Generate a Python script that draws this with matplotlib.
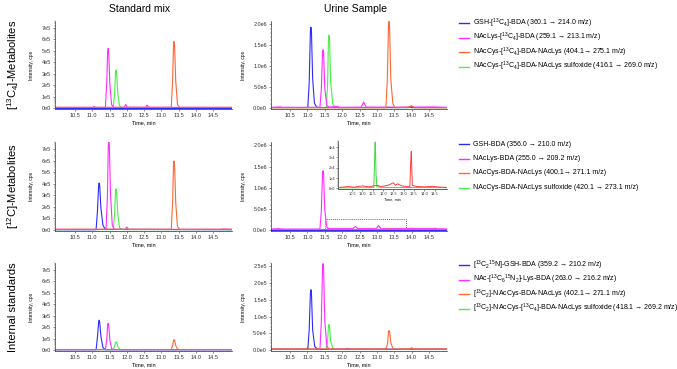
import matplotlib.pyplot as plt
from matplotlib.ticker import MultipleLocator
from matplotlib.patches import Rectangle

plt.rcParams['font.family'] = ['Liberation Sans', 'DejaVu Sans']
plt.rcParams['mathtext.fontset'] = 'custom'
plt.rcParams['mathtext.rm'] = 'Liberation Sans'
plt.rcParams['mathtext.it'] = 'Liberation Sans:italic'
plt.rcParams['mathtext.default'] = 'rm'

# -------- DATA: (time [min], intensity [cps]) --------
# Standard mix, [13C4]-metabolites
std13_gsh = [(9.95, 2e3), (15.05, 2e3)]
std13_lys = [(9.95, 4e3), (11.0, 4e3), (11.05, 1.2e4), (11.1, 4e3),
             (11.38, 4e3), (11.42, 2.2e5), (11.445, 4.9e5), (11.46, 5.2e5), (11.475, 4.9e5),
             (11.51, 2.1e5), (11.56, 3e4), (11.62, 4e3),
             (11.92, 5e3), (11.97, 3e4), (12.02, 6e3), (12.54, 5e3), (12.59, 2.5e4), (12.64, 5e3), (15.05, 4e3)]
std13_cys = [(9.95, 6e3), (13.29, 6e3), (13.33, 2.5e5), (13.355, 5.5e5), (13.37, 5.8e5), (13.385, 5.5e5),
             (13.42, 2.3e5), (13.47, 3e4), (13.53, 6e3), (15.05, 6e3)]
std13_sulf = [(9.95, 3e3), (11.61, 3e3), (11.65, 1.4e5), (11.675, 3.1e5), (11.69, 3.3e5), (11.705, 3.1e5),
              (11.74, 1.3e5), (11.79, 2e4), (11.86, 3e3), (15.05, 3e3)]

# Urine sample, [13C4]-metabolites
uri13_gsh = [(9.95, 1e4), (11.01, 1e4), (11.05, 6e5), (11.085, 1.83e6), (11.1, 1.93e6), (11.115, 1.83e6),
             (11.15, 7e5), (11.2, 1.2e5), (11.26, 2e4), (11.35, 1e4),
             (13.9, 1e4), (13.95, 2.5e4), (14.0, 1e4), (15.02, 1e4)]
uri13_lys = [(9.95, 1.5e4), (10.2, 2.5e4), (10.3, 1.5e4), (11.36, 1.5e4), (11.4, 4.5e5), (11.435, 1.32e6),
             (11.45, 1.39e6), (11.465, 1.32e6), (11.5, 4.5e5), (11.56, 6e4), (11.62, 2e4),
             (11.85, 3.5e4), (11.95, 1.5e4), (12.55, 2e4), (12.62, 1.4e5), (12.69, 2e4),
             (13.9, 2e4), (14.0, 5e4), (14.08, 2e4), (14.6, 2.5e4), (15.02, 1.5e4)]
uri13_cys = [(9.95, 5e3), (13.26, 5e3), (13.3, 6.5e5), (13.335, 1.97e6), (13.35, 2.07e6), (13.365, 1.97e6),
             (13.4, 7e5), (13.46, 1e5), (13.52, 5e3), (13.93, 2e4), (14.0, 4.5e4), (14.07, 5e3), (15.02, 5e3)]
uri13_sulf = [(9.95, 8e3), (11.54, 8e3), (11.58, 5.5e5), (11.605, 1.65e6), (11.62, 1.74e6), (11.635, 1.65e6),
              (11.67, 6e5), (11.73, 9e4), (11.8, 2e4), (11.9, 8e3), (15.02, 8e3)]

# Standard mix, [12C]-metabolites
std12_gsh = [(9.95, 2e3), (11.11, 2e3), (11.15, 1.6e5), (11.185, 3.85e5), (11.2, 4.06e5), (11.215, 3.85e5),
             (11.25, 1.9e5), (11.31, 4e4), (11.38, 5e3), (15.05, 2e3)]
std12_lys = [(9.95, 5e3), (11.4, 5e3), (11.44, 3e5), (11.465, 7.3e5), (11.48, 7.7e5), (11.495, 7.3e5),
             (11.53, 3e5), (11.58, 4e4), (11.64, 5e3), (11.95, 5e3), (12.0, 2.5e4), (12.05, 5e3),
             (14.7, 5e3), (14.8, 8e3), (15.05, 5e3)]
std12_cys = [(9.95, 6e3), (13.29, 6e3), (13.33, 2.5e5), (13.355, 5.65e5), (13.37, 5.95e5), (13.385, 5.65e5),
             (13.42, 2.3e5), (13.47, 3e4), (13.53, 6e3), (15.05, 6e3)]
std12_sulf = [(9.95, 3e3), (11.61, 3e3), (11.65, 1.5e5), (11.675, 3.35e5), (11.69, 3.55e5), (11.705, 3.35e5),
              (11.74, 1.4e5), (11.79, 2e4), (11.86, 3e3), (15.05, 3e3)]

# Urine sample, [12C]-metabolites
uri12_gsh = [(9.95, 5e3), (15.02, 5e3)]
uri12_lys = [(9.95, 2e4), (10.15, 3e4), (10.3, 2e4), (11.36, 2e4), (11.4, 4.5e5), (11.435, 1.33e6),
             (11.45, 1.4e6), (11.465, 1.33e6), (11.5, 4.5e5), (11.56, 6e4), (11.62, 3e4),
             (12.3, 3e4), (12.38, 8e4), (12.46, 3e4), (12.98, 3e4), (13.05, 1.05e5), (13.12, 3e4),
             (13.9, 3e4), (14.0, 4e4), (14.1, 3e4), (14.6, 3e4), (14.68, 4e4), (14.75, 2.5e4), (15.02, 2.5e4)]
uri12_cys = [(9.95, 1e4), (13.3, 1e4), (13.35, 3.5e4), (13.4, 1e4), (15.02, 1e4)]
uri12_sulf = [(9.95, 1e4), (11.55, 1e4), (11.62, 4.3e4), (11.68, 1e4), (15.02, 1e4)]

# zoomed inset of the urine [12C] trace
ins_sulf = [(9.9, 500), (11.55, 800), (11.59, 2.2e4), (11.61, 4.4e4), (11.63, 4.5e4), (11.66, 1.6e4),
            (11.7, 1500), (12.0, 1000), (15.1, 800)]
ins_cys = [(9.9, 1000), (10.3, 1800), (10.6, 1200), (11.0, 2500), (11.3, 1500), (11.7, 3000),
           (11.9, 1800), (12.1, 2500), (12.3, 3500), (12.5, 5500), (12.6, 3000), (12.7, 4500),
           (12.9, 2500), (13.1, 2000), (13.3, 1500), (13.34, 2.5e4), (13.37, 3.6e4), (13.42, 3000),
           (13.6, 2000), (14.0, 1500), (14.4, 2000), (14.8, 1200), (15.1, 1000)]

# Standard mix, internal standards
stdis_gsh = [(9.95, 2e3), (11.11, 2e3), (11.15, 1.1e5), (11.185, 2.45e5), (11.2, 2.6e5), (11.215, 2.45e5),
             (11.25, 1.2e5), (11.31, 2e4), (11.38, 2e3), (15.05, 2e3)]
stdis_lys = [(9.95, 3e3), (11.38, 3e3), (11.42, 9e4), (11.445, 2.2e5), (11.46, 2.33e5), (11.475, 2.2e5),
             (11.51, 9e4), (11.56, 1.2e4), (11.62, 3e3), (15.05, 3e3)]
stdis_cys = [(9.95, 4e3), (13.29, 4e3), (13.33, 4e4), (13.355, 8.5e4), (13.37, 9e4), (13.385, 8.5e4),
             (13.42, 3.8e4), (13.47, 8e3), (13.53, 4e3), (15.05, 4e3)]
stdis_sulf = [(9.95, 2e3), (11.61, 2e3), (11.65, 3.2e4), (11.675, 6.6e4), (11.69, 7e4), (11.705, 6.6e4),
              (11.74, 3e4), (11.79, 6e3), (11.86, 2e3), (15.05, 2e3)]

# Urine sample, internal standards
uriis_gsh = [(9.95, 2e3), (11.01, 2e3), (11.05, 6e4), (11.085, 1.7e5), (11.1, 1.8e5), (11.115, 1.7e5),
             (11.15, 6e4), (11.21, 1e4), (11.3, 2e3), (12.1, 2e3), (12.15, 4e3), (12.2, 2e3), (15.02, 2e3)]
uriis_lys = [(9.95, 2e3), (11.36, 2e3), (11.4, 8.5e4), (11.435, 2.45e5), (11.45, 2.58e5), (11.465, 2.45e5),
             (11.5, 8.5e4), (11.56, 1.2e4), (11.62, 2e3), (15.02, 2e3)]
uriis_cys = [(9.95, 3e3), (13.27, 3e3), (13.31, 2.2e4), (13.335, 5.5e4), (13.35, 5.8e4), (13.365, 5.5e4),
             (13.4, 2.2e4), (13.46, 5e3), (13.52, 3e3), (13.95, 3e3), (14.0, 7e3), (14.05, 3e3), (15.02, 3e3)]
uriis_sulf = [(9.95, 2e3), (10.95, 2e3), (11.0, 7e3), (11.05, 2e3), (11.54, 2e3), (11.58, 2.6e4),
              (11.605, 7.2e4), (11.62, 7.6e4), (11.635, 7.2e4), (11.67, 2.6e4), (11.73, 5e3), (11.8, 2e3),
              (13.2, 2e3), (13.25, 6e3), (13.3, 2e3), (15.02, 2e3)]

col_titles = ["Standard mix", "Urine Sample"]
row_titles = [r"[$^{13}$C$_4$]-Metabolites", r"[$^{12}$C]-Metabolites", "Internal standards"]

legend_13c = [r"GSH-[$^{13}$C$_4$]-BDA (360.1 → 214.0 m/z)",
              r"NAcLys-[$^{13}$C$_4$]-BDA (259.1 → 213.1 m/z)",
              r"NAcCys-[$^{13}$C$_4$]-BDA-NAcLys (404.1→ 275.1 m/z)",
              r"NAcCys-[$^{13}$C$_4$]-BDA-NAcLys sulfoxide (416.1 → 269.0 m/z)"]
legend_12c = ["GSH-BDA (356.0 → 210.0 m/z)",
              "NAcLys-BDA (255.0 → 209.2 m/z)",
              "NAcCys-BDA-NAcLys (400.1→ 271.1 m/z)",
              "NAcCys-BDA-NAcLys sulfoxide (420.1 → 273.1 m/z)"]
legend_is = [r"[$^{13}$C$_2$$^{15}$N]-GSH-BDA (359.2 → 210.2 m/z)",
             r"NAc-[$^{13}$C$_6$$^{15}$N$_2$]-Lys-BDA (263.0 → 216.2 m/z)",
             r"[$^{13}$C$_2$]-NAcCys-BDA-NAcLys (402.1→ 271.1 m/z)",
             r"[$^{13}$C$_2$]-NAcCys-[$^{13}$C$_4$]-BDA-NAcLys sulfoxide (418.1 → 269.2 m/z)"]

std_yticks = [0, 1e5, 2e5, 3e5, 4e5, 5e5, 6e5, 7e5]
std_ylabels = ["0e0", "1e5", "2e5", "3e5", "4e5", "5e5", "6e5", "7e5"]
uri_yticks = [0, 5e5, 1e6, 1.5e6, 2e6]
uri_ylabels = ["0.0e0", "5.0e5", "1.0e6", "1.5e6", "2.0e6"]
uriis_yticks = [0, 5e4, 1e5, 1.5e5, 2e5, 2.5e5]
uriis_ylabels = ["0.0e0", "5.0e4", "1.0e5", "1.5e5", "2.0e5", "2.5e5"]
ins_yticks = [0, 1e4, 2e4, 3e4, 4e4]
ins_ylabels = ["0e0", "1e4", "2e4", "3e4", "4e4"]
xticks = [10.5, 11.0, 11.5, 12.0, 12.5, 13.0, 13.5, 14.0, 14.5]

colors = ['#2b2bff', '#ff2cff', '#ff6633', '#46f046']

# -------- LAYOUT (pixels) --------
W, H = 677, 369
fig = plt.figure(figsize=(W / 100, H / 100), dpi=100)


def add_ax(left, top, right, bottom):
    return fig.add_axes([left / W, 1 - bottom / H, (right - left) / W, (bottom - top) / H])


def style(ax, yticks, ylabels, ymax, xlim, fs=4.0):
    ax.set_xlim(*xlim)
    ax.set_ylim(-0.012 * ymax, ymax)
    ax.set_yticks(yticks)
    ax.set_yticklabels(ylabels)
    ax.set_xticks(xticks)
    ax.set_xticklabels([f"{t:.1f}" for t in xticks])
    ax.xaxis.set_minor_locator(MultipleLocator(0.1))
    ax.yaxis.set_minor_locator(MultipleLocator(yticks[1] / 5))
    for s in ['top', 'right']:
        ax.spines[s].set_visible(False)
    for s in ['left', 'bottom']:
        ax.spines[s].set_linewidth(0.5)
        ax.spines[s].set_color('#333333')
    ax.tick_params(which='major', length=1.6, width=0.4, pad=1.2, labelsize=fs, colors='#333333')
    ax.tick_params(which='minor', length=0.8, width=0.3, colors='#333333')
    ax.set_xlabel("Time, min", fontsize=fs, labelpad=1.5)


def draw(ax, traces, lw=0.8):
    order = [3, 0, 1, 2]
    for i in order:
        t = [p[0] for p in traces[i]]
        y = [p[1] for p in traces[i]]
        ax.plot(t, y, color=colors[i], lw=lw)


rows_px = [(21, 109), (142, 231), (263, 351)]
std_traces = [[std13_gsh, std13_lys, std13_cys, std13_sulf],
              [std12_gsh, std12_lys, std12_cys, std12_sulf],
              [stdis_gsh, stdis_lys, stdis_cys, stdis_sulf]]
uri_traces = [[uri13_gsh, uri13_lys, uri13_cys, uri13_sulf],
              [uri12_gsh, uri12_lys, uri12_cys, uri12_sulf],
              [uriis_gsh, uriis_lys, uriis_cys, uriis_sulf]]
uri_ticks = [(uri_yticks, uri_ylabels, 2.08e6), (uri_yticks, uri_ylabels, 2.08e6),
             (uriis_yticks, uriis_ylabels, 2.6e5)]
legends = [legend_13c, legend_12c, legend_is]

for r, (top, bot) in enumerate(rows_px):
    ax = add_ax(55, top, 232, bot)
    draw(ax, std_traces[r])
    style(ax, std_yticks, std_ylabels, 7.6e5, (9.92, 15.05))
    ax.set_ylabel("Intensity, cps", fontsize=3.6, labelpad=6)

    ax2 = add_ax(271, top, 447, bot)
    draw(ax2, uri_traces[r])
    yt, yl, ym = uri_ticks[r]
    style(ax2, yt, yl, ym, (9.95, 15.02))
    ax2.set_ylabel("Intensity, cps", fontsize=3.6, labelpad=5)

    # row label
    fig.text(13 / W, 1 - (top + bot) / 2 / H, row_titles[r], rotation=90, fontsize=8,
             ha='center', va='center')

    # legend
    for k, txt in enumerate(legends[r]):
        yy = 1 - (top + 2 + k * 14.5) / H
        fig.add_artist(plt.Line2D([459 / W, 469 / W], [yy, yy], color=colors[k], lw=1.0))
        fig.text(473 / W, yy, txt, fontsize=5, va='center', ha='left')

    if r == 1:
        ax2.add_patch(Rectangle((11.5, 1e4), 2.34, 2.45e5, fill=False, ls=(0, (1.5, 1.5)),
                                lw=0.5, ec='#333333'))
        axi = add_ax(338, 141, 447, 189)
        axi.plot([p[0] for p in ins_sulf], [p[1] for p in ins_sulf], color='#3ddc3d', lw=0.7)
        axi.plot([p[0] for p in ins_cys], [p[1] for p in ins_cys], color='#ff3b3b', lw=0.7)
        style(axi, ins_yticks, ins_ylabels, 4.6e4, (9.82, 15.1), fs=2.8)
        axi.xaxis.label.set_size(2.8)
        axi.tick_params(which='major', pad=0.8, length=1.2)

fig.text(140 / W, 1 - 9 / H, col_titles[0], fontsize=7.5, ha='center', va='center')
fig.text(356 / W, 1 - 9 / H, col_titles[1], fontsize=7.5, ha='center', va='center')

fig.savefig("out.png", dpi=100)
